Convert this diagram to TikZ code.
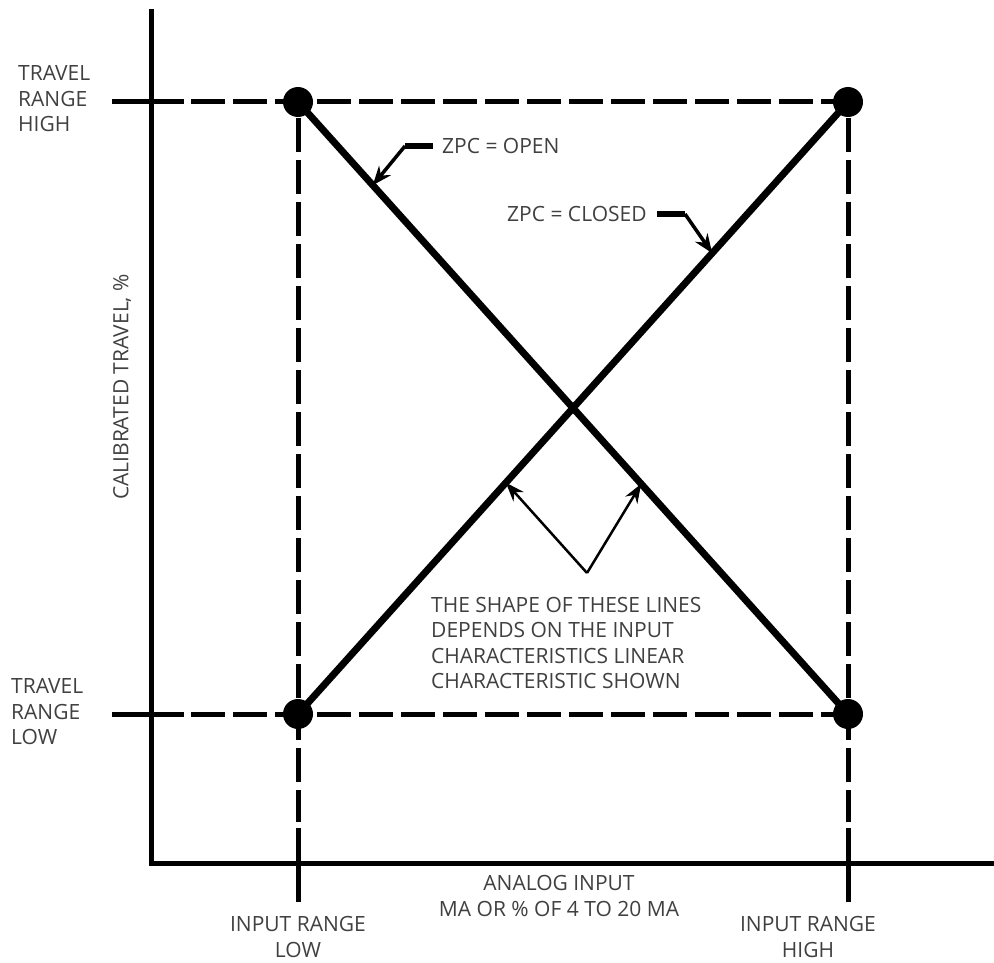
\documentclass[tikz,border=0pt]{standalone}
\usepackage{fontspec}
\setmainfont{Open Sans}
\usetikzlibrary{arrows.meta,calc}
\definecolor{txt}{HTML}{404040}
\begin{document}
\begin{tikzpicture}[x=1pt,y=-1pt,
  axisline/.style={line width=5pt},
  guide/.style={line width=5pt, dash pattern=on 34pt off 8pt},
  curveline/.style={line width=7pt},
  dotnode/.style={circle, fill=black, inner sep=0pt, minimum size=30pt},
  lbl/.style={font=\fontsize{21}{25.5}\selectfont, text=txt, inner sep=0pt},
  stub/.style={line width=6pt},
  callout/.style={line width=3.5pt, -{Stealth[length=19pt,width=15pt]}},
  pointer/.style={line width=2.5pt, -{Stealth[length=19pt,width=14pt]}}]
\useasboundingbox (0,0) rectangle (994,963);
% axes
\coordinate (O) at (151,863);
\coordinate (ytop) at (151,9);
\coordinate (xend) at (994,863);
\draw[axisline] (ytop) -- (O) -- (xend);
% range points
\node[dotnode] (LH) at (298,102) {};
\node[dotnode] (HH) at (848,102) {};
\node[dotnode] (LL) at (298,714) {};
\node[dotnode] (HL) at (848,714) {};
% guide lines
\coordinate (th0) at (112,102); \coordinate (th1) at (184,102); \coordinate (th2) at (191,102);
\coordinate (tl0) at (112,714); \coordinate (tl1) at (184,714); \coordinate (tl2) at (191,714);
\draw[axisline] (th0) -- (th1);
\draw[guide] (th2) -- (HH.center);
\draw[axisline] (tl0) -- (tl1);
\draw[guide] (tl2) -- (HL.center);
\coordinate (il0) at (298,118); \coordinate (il1) at (298,822);
\coordinate (il2) at (298,828); \coordinate (il3) at (298,902);
\coordinate (ih0) at (848,118); \coordinate (ih1) at (848,822);
\coordinate (ih2) at (848,828); \coordinate (ih3) at (848,902);
\draw[guide] (il0) -- (il1);
\draw[axisline] (il2) -- (il3);
\draw[guide] (ih0) -- (ih1);
\draw[axisline] (ih2) -- (ih3);
% characteristic lines
\draw[curveline] (LH.center) -- (HL.center);
\draw[curveline] (LL.center) -- (HH.center);
% labels
\node[lbl, anchor=west, align=left] (trh) at (18,99) {TRAVEL\\RANGE\\HIGH};
\node[lbl, anchor=west, align=left] (trl) at (11,712) {TRAVEL\\RANGE\\LOW};
\node[lbl, rotate=90] (ylab) at (122,387) {CALIBRATED TRAVEL, \%};
\node[lbl, align=center] (irl) at (298,937) {INPUT RANGE\\LOW};
\node[lbl, align=center] (irh) at (808,937) {INPUT RANGE\\HIGH};
\node[lbl, align=center] (xlab) at (559,896) {ANALOG INPUT\\MA OR \% OF 4 TO 20 MA};
\node[lbl, anchor=west, align=left] (note) at (431,643) {THE SHAPE OF THESE LINES\\DEPENDS ON THE INPUT\\CHARACTERISTICS LINEAR\\CHARACTERISTIC SHOWN};
\node[lbl, anchor=west] (zo) at (442,146) {ZPC = OPEN};
\node[lbl, anchor=west] (zc) at (507,214) {ZPC = CLOSED};
% callouts
\coordinate (zos) at (433,146); \coordinate (zoe) at (405,146);
\draw[stub] (zos) -- (zoe);
\draw[callout] (zoe) -- ($(LH.center)!0.136!(HL.center)$);
\coordinate (zcs) at (657,214); \coordinate (zce) at (685,214);
\draw[stub] (zcs) -- (zce);
\draw[callout] (zce) -- ($(LL.center)!0.753!(HH.center)$);
\coordinate (pbase) at (587,573);
\draw[pointer] (pbase) -- ($(LL.center)!0.378!(HH.center)$);
\draw[pointer] (pbase) -- ($(LH.center)!0.624!(HL.center)$);
\end{tikzpicture}
\end{document}
